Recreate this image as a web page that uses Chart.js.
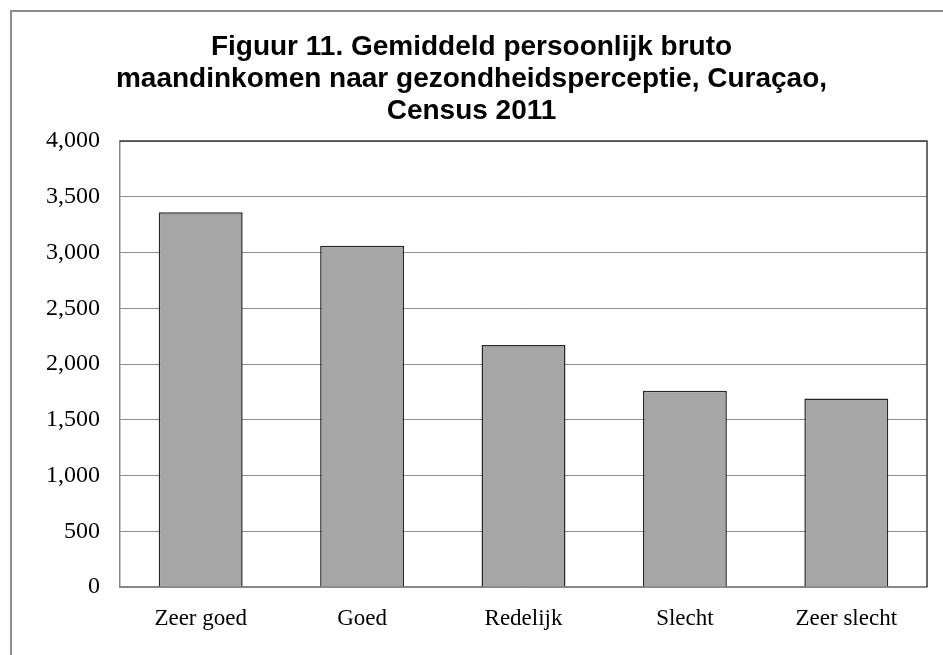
<!DOCTYPE html>
<html>
<head>
<meta charset="utf-8">
<script src="https://cdn.jsdelivr.net/npm/chart.js@4"></script>
<style>
  html, body { margin: 0; padding: 0; background: #fff; overflow: hidden; }
  #wrap { position: relative; width: 943px; height: 655px; }
  #frame {
    position: absolute; left: 10px; top: 10px; width: 960px; height: 700px;
    border-left: 2px solid #8c8c8c; border-top: 2px solid #8c8c8c;
    box-sizing: border-box;
  }
  canvas { position: absolute; left: 0; top: 0; }
</style>
</head>
<body>
<div id="wrap">
  <div id="frame"></div>
  <canvas id="chart" width="943" height="655"></canvas>
</div>
<script>
// Gemiddeld persoonlijk bruto maandinkomen per gezondheidsperceptie
const categories = ["Zeer goed", "Goed", "Redelijk", "Slecht", "Zeer slecht"];
const incomeValues = [3360, 3060, 2170, 1760, 1690];
const titleLines = [
  "Figuur 11. Gemiddeld persoonlijk bruto",
  "maandinkomen naar gezondheidsperceptie, Curaçao,",
  "Census 2011"
];

// right + top edge of the plot area in dark, like the Excel frame
const plotFrame = {
  id: 'plotFrame',
  afterDraw(chart) {
    const { ctx, chartArea: a } = chart;
    ctx.save();
    ctx.strokeStyle = '#3a3a3a';
    ctx.lineWidth = 1.5;
    ctx.beginPath();
    ctx.moveTo(a.left, a.top);
    ctx.lineTo(a.right, a.top);
    ctx.lineTo(a.right, a.bottom);
    ctx.stroke();
    ctx.restore();
  }
};

new Chart(document.getElementById('chart').getContext('2d'), {
  type: 'bar',
  data: {
    labels: categories,
    datasets: [{
      data: incomeValues,
      backgroundColor: '#a6a6a6',
      borderColor: '#262626',
      borderWidth: 1.5,
      categoryPercentage: 1,
      barPercentage: 0.52
    }]
  },
  options: {
    responsive: false,
    animation: false,
    layout: { padding: { left: 16, right: 16, top: 0, bottom: 0 } },
    plugins: {
      legend: { display: false },
      tooltip: { enabled: false },
      title: {
        display: true,
        text: titleLines,
        color: '#000',
        font: { family: 'Liberation Sans, Arial, sans-serif', size: 28, weight: 'bold', lineHeight: 1.143 },
        padding: { top: 31, bottom: 14 }
      }
    },
    scales: {
      x: {
        grid: { display: false, drawTicks: false },
        border: { display: true, color: '#868686', width: 1.5 },
        ticks: {
          color: '#000',
          padding: 18,
          font: { family: 'Liberation Serif, Times New Roman, serif', size: 23 }
        },
        afterFit(scale) { scale.height = 68; }
      },
      y: {
        min: 0,
        max: 4000,
        grid: { color: '#8c8c8c', lineWidth: 1, drawTicks: false },
        border: { display: true, color: '#868686', width: 1.5 },
        ticks: {
          stepSize: 500,
          color: '#000',
          padding: 20,
          font: { family: 'Liberation Serif, Times New Roman, serif', size: 24 },
          callback: v => v.toLocaleString('en-US')
        },
        afterFit(scale) { scale.width = 104; }
      }
    }
  },
  plugins: [plotFrame]
});
</script>
</body>
</html>
